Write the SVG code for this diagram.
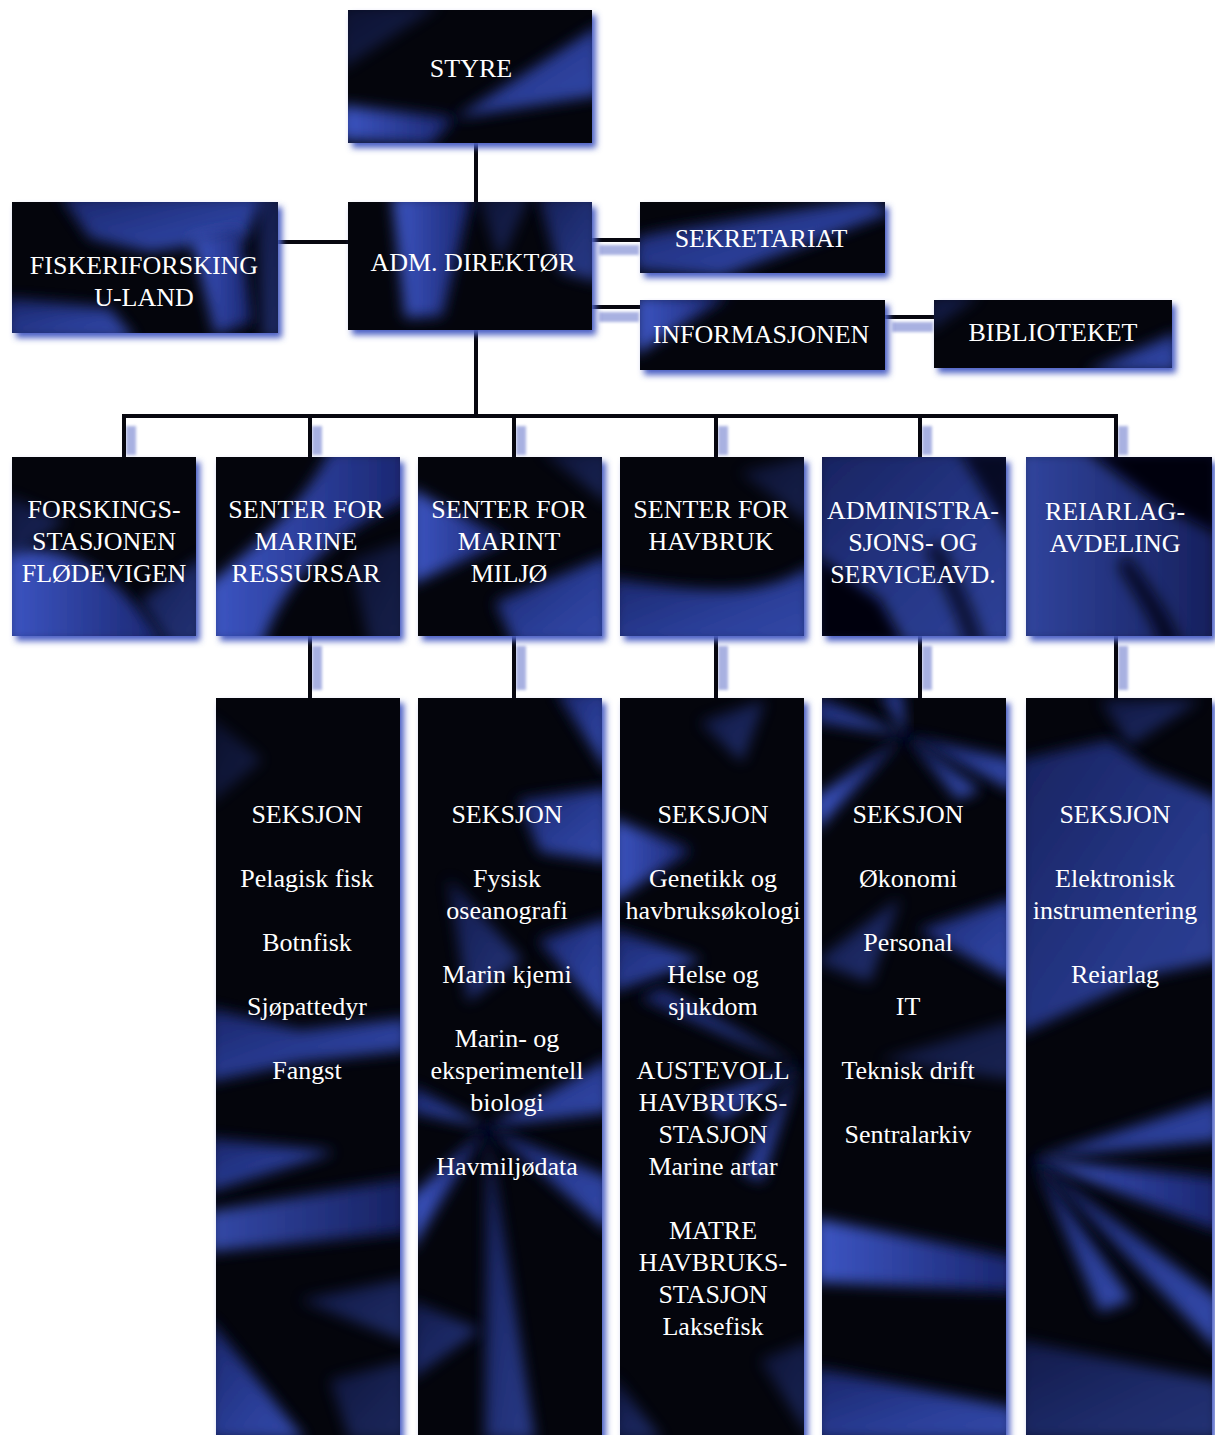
<svg xmlns="http://www.w3.org/2000/svg" width="1215" height="1435" viewBox="0 0 1215 1435">
<style>
text{font-family:"Liberation Serif","Times New Roman",serif;font-size:26px;fill:#ffffff;text-anchor:middle}
.base{fill:#04050c}
.glow{fill:#4b5ec4;filter:url(#gl)}
.s{fill:url(#bg);filter:url(#bl);opacity:.9}
.sb{fill:url(#bg2);filter:url(#bl)}
.k{fill:#04050c;filter:url(#bl)}
.ln{stroke:#07070f;stroke-width:4;fill:none;stroke-linecap:square}
.lsh{stroke:#8c97d8;stroke-width:10;fill:none;filter:url(#ls);opacity:.75}
</style>
<defs>
<filter id="gl" x="-10%" y="-10%" width="130%" height="130%"><feGaussianBlur stdDeviation="3"/></filter>
<filter id="bl" x="-30%" y="-30%" width="160%" height="160%"><feGaussianBlur stdDeviation="7"/></filter>
<filter id="ls" x="-50%" y="-50%" width="200%" height="200%"><feGaussianBlur stdDeviation="1.8"/></filter>
<linearGradient id="bg" x1="0" y1="0" x2="1" y2="1"><stop offset="0" stop-color="#1c2974"/><stop offset=".6" stop-color="#2f45a8"/><stop offset="1" stop-color="#3a52bc"/></linearGradient>
<linearGradient id="bg2" x1="0" y1="0" x2="1" y2="0"><stop offset="0" stop-color="#3d56c4"/><stop offset="1" stop-color="#1a2670"/></linearGradient>
<clipPath id="cB1"><rect x="348" y="10" width="244" height="133"/></clipPath>
<clipPath id="cB2"><rect x="12" y="202" width="266" height="131"/></clipPath>
<clipPath id="cB3"><rect x="348" y="202" width="244" height="128"/></clipPath>
<clipPath id="cB4"><rect x="640" y="202" width="245" height="71"/></clipPath>
<clipPath id="cB5"><rect x="640" y="300" width="245" height="70"/></clipPath>
<clipPath id="cB6"><rect x="934" y="300" width="238" height="68"/></clipPath>
<clipPath id="cR1"><rect x="12" y="457" width="184" height="179"/></clipPath>
<clipPath id="cR2"><rect x="216" y="457" width="184" height="179"/></clipPath>
<clipPath id="cR3"><rect x="418" y="457" width="184" height="179"/></clipPath>
<clipPath id="cR4"><rect x="620" y="457" width="184" height="179"/></clipPath>
<clipPath id="cR5"><rect x="822" y="457" width="184" height="179"/></clipPath>
<clipPath id="cR6"><rect x="1026" y="457" width="186" height="179"/></clipPath>
<clipPath id="cC1"><rect x="216" y="698" width="184" height="740"/></clipPath>
<clipPath id="cC2"><rect x="418" y="698" width="184" height="740"/></clipPath>
<clipPath id="cC3"><rect x="620" y="698" width="184" height="740"/></clipPath>
<clipPath id="cC4"><rect x="822" y="698" width="184" height="740"/></clipPath>
<clipPath id="cC5"><rect x="1026" y="698" width="186" height="740"/></clipPath>
</defs>
<rect width="1215" height="1435" fill="#ffffff"/>

<g id="connectors">
<g transform="translate(7,10)">
<path class="lsh" d="M476,143 V190"/>
<path class="lsh" d="M278,242 H340"/>
<path class="lsh" d="M592,240 H632 M592,307 H632 M885,317 H926"/>
<path class="lsh" d="M476,330 V404"/>
<path class="lsh" d="M124,416 H1116"/>
<path class="lsh" d="M124,416 V445 M310,416 V445 M514,416 V445 M716,416 V445 M920,416 V445 M1116,416 V445"/>
<path class="lsh" d="M310,636 V680 M514,636 V680 M716,636 V680 M920,636 V680 M1116,636 V680"/>
</g>
<path class="ln" d="M476,143 V202"/>
<path class="ln" d="M278,242 H348"/>
<path class="ln" d="M592,240 H640 M592,307 H640 M885,317 H934"/>
<path class="ln" d="M476,330 V416"/>
<path class="ln" d="M124,416 H1116"/>
<path class="ln" d="M124,416 V457 M310,416 V457 M514,416 V457 M716,416 V457 M920,416 V457 M1116,416 V457"/>
<path class="ln" d="M310,636 V698 M514,636 V698 M716,636 V698 M920,636 V698 M1116,636 V698"/>
</g>

<g id="styre">
<rect class="glow" x="352" y="15" width="244" height="133"/>
<rect class="base" x="348" y="10" width="244" height="133"/>
<g clip-path="url(#cB1)">
<polygon class="s" points="455,118 600,25 600,95"/>
<polygon class="sb" points="455,118 340,105 340,140 430,145"/>
<polygon class="s" points="340,5 440,5 340,70" style="opacity:.35"/>
</g>
<text x="471" y="77">STYRE</text>
</g>

<g id="fiskeriforsking">
<rect class="glow" x="16" y="207" width="266" height="131"/>
<rect class="base" x="12" y="202" width="266" height="131"/>
<g clip-path="url(#cB2)">
<polygon class="s" points="60,195 265,195 245,238 150,252 90,238"/>
<polygon class="sb" points="192,238 240,228 252,322 215,335"/>
<polygon class="s" points="5,298 110,308 135,340 5,340"/>
<polygon class="s" points="255,195 285,195 285,340 262,340" style="opacity:.5"/>
</g>
<text x="144" y="274">FISKERIFORSKING</text>
<text x="144" y="306">U-LAND</text>
</g>

<g id="adm">
<rect class="glow" x="352" y="207" width="244" height="128"/>
<rect class="base" x="348" y="202" width="244" height="128"/>
<g clip-path="url(#cB3)">
<polygon class="sb" points="392,195 472,195 442,316 405,318"/>
<polygon class="s" points="538,195 600,195 600,282 560,272" style="opacity:.7"/>
<polygon class="s" points="478,195 530,195 500,262" style="opacity:.4"/>
</g>
<text x="473" y="271">ADM. DIREKTØR</text>
</g>

<g id="sekretariat">
<rect class="glow" x="644" y="207" width="245" height="71"/>
<rect class="base" x="640" y="202" width="245" height="71"/>
<g clip-path="url(#cB4)">
<polygon class="s" points="635,238 660,232 870,198 892,212 722,276 635,270"/>
</g>
<text x="761" y="247">SEKRETARIAT</text>
</g>

<g id="informasjonen">
<rect class="glow" x="644" y="305" width="245" height="70"/>
<rect class="base" x="640" y="300" width="245" height="70"/>
<g clip-path="url(#cB5)">
<polygon class="sb" points="635,295 730,295 635,355"/>
</g>
<text x="761" y="343">INFORMASJONEN</text>
</g>

<g id="biblioteket">
<rect class="glow" x="938" y="305" width="238" height="68"/>
<rect class="base" x="934" y="300" width="238" height="68"/>
<g clip-path="url(#cB6)">
<polygon class="s" points="1085,372 1178,332 1178,372"/>
<polygon class="s" points="928,295 980,295 928,332" style="opacity:.4"/>
</g>
<text x="1053" y="341">BIBLIOTEKET</text>
</g>

<g id="forskingsstasjonen">
<rect class="glow" x="16" y="462" width="184" height="179"/>
<rect class="base" x="12" y="457" width="184" height="179"/>
<g clip-path="url(#cR1)">
<path class="sb" d="M5,555 C60,535 120,575 165,645 L5,645 Z"/>
<polygon class="s" points="5,495 65,520 5,565" style="opacity:.45"/>
<polygon class="s" points="140,600 205,555 205,645 170,645" style="opacity:.6"/>
</g>
<text x="104" y="518">FORSKINGS-</text>
<text x="104" y="550">STASJONEN</text>
<text x="104" y="582">FLØDEVIGEN</text>
</g>

<g id="marine-ressursar">
<rect class="glow" x="220" y="462" width="184" height="179"/>
<rect class="base" x="216" y="457" width="184" height="179"/>
<g clip-path="url(#cR2)">
<path class="sb" d="M330,450 L408,450 L408,500 C350,525 290,565 262,645 L208,645 L208,585 C255,545 305,505 330,450Z"/>
<polygon class="s" points="350,560 408,540 408,645 370,645" style="opacity:.35"/>
</g>
<text x="306" y="518">SENTER FOR</text>
<text x="306" y="550">MARINE</text>
<text x="306" y="582">RESSURSAR</text>
</g>

<g id="marint-miljo">
<rect class="glow" x="422" y="462" width="184" height="179"/>
<rect class="base" x="418" y="457" width="184" height="179"/>
<g clip-path="url(#cR3)">
<polygon class="sb" points="410,488 508,540 410,585"/>
<polygon class="s" points="495,602 610,555 610,645 515,645"/>
<polygon class="s" points="540,450 610,450 610,505" style="opacity:.4"/>
</g>
<text x="509" y="518">SENTER FOR</text>
<text x="509" y="550">MARINT</text>
<text x="509" y="582">MILJØ</text>
</g>

<g id="havbruk">
<rect class="glow" x="624" y="462" width="184" height="179"/>
<rect class="base" x="620" y="457" width="184" height="179"/>
<g clip-path="url(#cR4)">
<path class="s" d="M612,578 C700,592 760,600 812,565 L812,645 L612,645Z"/>
<polygon class="s" points="740,472 812,455 812,525" style="opacity:.35"/>
</g>
<text x="711" y="518">SENTER FOR</text>
<text x="711" y="550">HAVBRUK</text>
</g>

<g id="administrasjon">
<rect class="glow" x="826" y="462" width="184" height="179"/>
<rect class="base" x="822" y="457" width="184" height="179"/>
<g clip-path="url(#cR5)">
<rect class="s" x="815" y="450" width="200" height="195" style="opacity:.8"/>
<polygon class="k" points="815,555 880,600 905,645 815,645"/>
<polygon class="k" points="958,450 1015,450 1015,545" style="opacity:.8"/>
<path class="k" d="M940,540 C960,580 975,610 985,645 L965,645 C955,610 940,580 925,550Z" style="opacity:.7"/>
</g>
<text x="913" y="519">ADMINISTRA-</text>
<text x="913" y="551">SJONS- OG</text>
<text x="913" y="583">SERVICEAVD.</text>
</g>

<g id="reiarlag-avdeling">
<rect class="glow" x="1030" y="462" width="186" height="179"/>
<rect class="base" x="1026" y="457" width="186" height="179"/>
<g clip-path="url(#cR6)">
<rect class="sb" x="1018" y="450" width="200" height="195" style="opacity:.8"/>
<polygon class="k" points="1085,450 1220,450 1220,535 1160,505"/>
<path class="k" d="M1128,555 C1150,588 1170,612 1182,645 L1160,645 C1150,612 1130,590 1118,565Z" style="opacity:.8"/>
</g>
<text x="1115" y="520">REIARLAG-</text>
<text x="1115" y="552">AVDELING</text>
</g>

<g id="seksjon-marine">
<rect class="glow" x="220" y="703" width="184" height="740"/>
<rect class="base" x="216" y="698" width="184" height="740"/>
<g clip-path="url(#cC1)">
<polygon class="s" points="208,715 262,760 208,805" style="opacity:.3"/>
<polygon class="s" points="208,1008 300,1030 408,1018 408,1050 300,1062 208,1082"/>
<polygon class="s" points="208,1138 335,1152 208,1192"/>
<polygon class="sb" points="208,1212 408,1178 408,1232 208,1252" style="opacity:.85"/>
<polygon class="s" points="208,1318 305,1440 208,1440"/>
<polygon class="s" points="300,1300 408,1278 408,1342" style="opacity:.5"/>
<polygon class="s" points="330,1380 408,1360 408,1440 350,1440" style="opacity:.45"/>
</g>
<text x="307" y="823">SEKSJON</text>
<text x="307" y="887">Pelagisk fisk</text>
<text x="307" y="951">Botnfisk</text>
<text x="307" y="1015">Sjøpattedyr</text>
<text x="307" y="1079">Fangst</text>
</g>

<g id="seksjon-miljo">
<rect class="glow" x="422" y="703" width="184" height="740"/>
<rect class="base" x="418" y="698" width="184" height="740"/>
<g clip-path="url(#cC2)">
<polygon class="s" points="555,690 610,690 610,775"/>
<polygon class="s" points="518,800 610,788 610,862 540,852"/>
<polygon class="s" points="448,878 522,960 468,1002" style="opacity:.6"/>
<polygon class="s" points="538,940 610,918 610,1022"/>
<polygon class="s" points="487,1127 410,1085 410,1112"/>
<polygon class="s" points="487,1127 610,1058 610,1112"/>
<polygon class="sb" points="487,1127 410,1198 410,1252"/>
<polygon class="s" points="487,1127 610,1178 610,1232"/>
<polygon class="s" points="487,1127 535,1440 485,1440" style="opacity:.7"/>
<polygon class="s" points="410,1300 480,1330 410,1380" style="opacity:.6"/>
</g>
<text x="507" y="823">SEKSJON</text>
<text x="507" y="887">Fysisk</text>
<text x="507" y="919">oseanografi</text>
<text x="507" y="983">Marin kjemi</text>
<text x="507" y="1047">Marin- og</text>
<text x="507" y="1079">eksperimentell</text>
<text x="507" y="1111">biologi</text>
<text x="507" y="1175">Havmiljødata</text>
</g>

<g id="seksjon-havbruk">
<rect class="glow" x="624" y="703" width="184" height="740"/>
<rect class="base" x="620" y="698" width="184" height="740"/>
<g clip-path="url(#cC3)">
<polygon class="s" points="700,722 765,700 742,762" style="opacity:.5"/>
<polygon class="sb" points="612,818 692,850 612,902"/>
<polygon class="s" points="612,928 702,960 612,992"/>
<polygon class="s" points="799,1066 640,998 662,988"/>
<polygon class="s" points="799,1066 700,1098 722,1122"/>
<polygon class="s" points="799,1066 740,1172 762,1182"/>
<polygon class="s" points="612,1375 662,1440 612,1440" style="opacity:.5"/>
<polygon class="s" points="760,1360 812,1340 812,1440" style="opacity:.4"/>
</g>
<text x="713" y="823">SEKSJON</text>
<text x="713" y="887">Genetikk og</text>
<text x="713" y="919">havbruksøkologi</text>
<text x="713" y="983">Helse og</text>
<text x="713" y="1015">sjukdom</text>
<text x="713" y="1079">AUSTEVOLL</text>
<text x="713" y="1111">HAVBRUKS-</text>
<text x="713" y="1143">STASJON</text>
<text x="713" y="1175">Marine artar</text>
<text x="713" y="1239">MATRE</text>
<text x="713" y="1271">HAVBRUKS-</text>
<text x="713" y="1303">STASJON</text>
<text x="713" y="1335">Laksefisk</text>
</g>

<g id="seksjon-admin">
<rect class="glow" x="826" y="703" width="184" height="740"/>
<rect class="base" x="822" y="698" width="184" height="740"/>
<g clip-path="url(#cC4)">
<polygon class="s" points="905,735 815,695 815,722"/>
<polygon class="s" points="905,735 878,690 902,690"/>
<polygon class="s" points="905,735 1015,760 1015,792"/>
<polygon class="s" points="905,735 958,800 980,790"/>
<polygon class="sb" points="905,735 815,798 815,832"/>
<polygon class="s" points="815,962 900,898 870,982" style="opacity:.55"/>
<polygon class="s" points="918,930 1015,898 1015,982"/>
<polygon class="s" points="880,1060 1015,1020 1015,1080" style="opacity:.4"/>
<polygon class="sb" points="815,1218 1015,1258 1015,1292 815,1282"/>
<polygon class="s" points="815,1368 1015,1408 1015,1440 815,1440"/>
</g>
<text x="908" y="823">SEKSJON</text>
<text x="908" y="887">Økonomi</text>
<text x="908" y="951">Personal</text>
<text x="908" y="1015">IT</text>
<text x="908" y="1079">Teknisk drift</text>
<text x="908" y="1143">Sentralarkiv</text>
</g>

<g id="seksjon-reiarlag">
<rect class="glow" x="1030" y="703" width="186" height="740"/>
<rect class="base" x="1026" y="698" width="186" height="740"/>
<g clip-path="url(#cC5)">
<polygon class="s" points="1018,760 1110,740 1150,770 1220,800 1220,960 1150,975 1018,1035" style="opacity:.8"/>
<polygon class="s" points="1100,700 1200,700 1130,745" style="opacity:.5"/>
<polygon class="s" points="1033,1159 1220,1098 1220,1140"/>
<polygon class="sb" points="1033,1159 1220,1178 1220,1232"/>
<polygon class="s" points="1033,1159 1132,1300 1100,1312"/>
<polygon class="s" points="1033,1159 1220,1300 1220,1352"/>
<polygon class="s" points="1018,1340 1220,1382 1220,1440 1018,1440" style="opacity:.6"/>
</g>
<text x="1115" y="823">SEKSJON</text>
<text x="1115" y="887">Elektronisk</text>
<text x="1115" y="919">instrumentering</text>
<text x="1115" y="983">Reiarlag</text>
</g>
</svg>
